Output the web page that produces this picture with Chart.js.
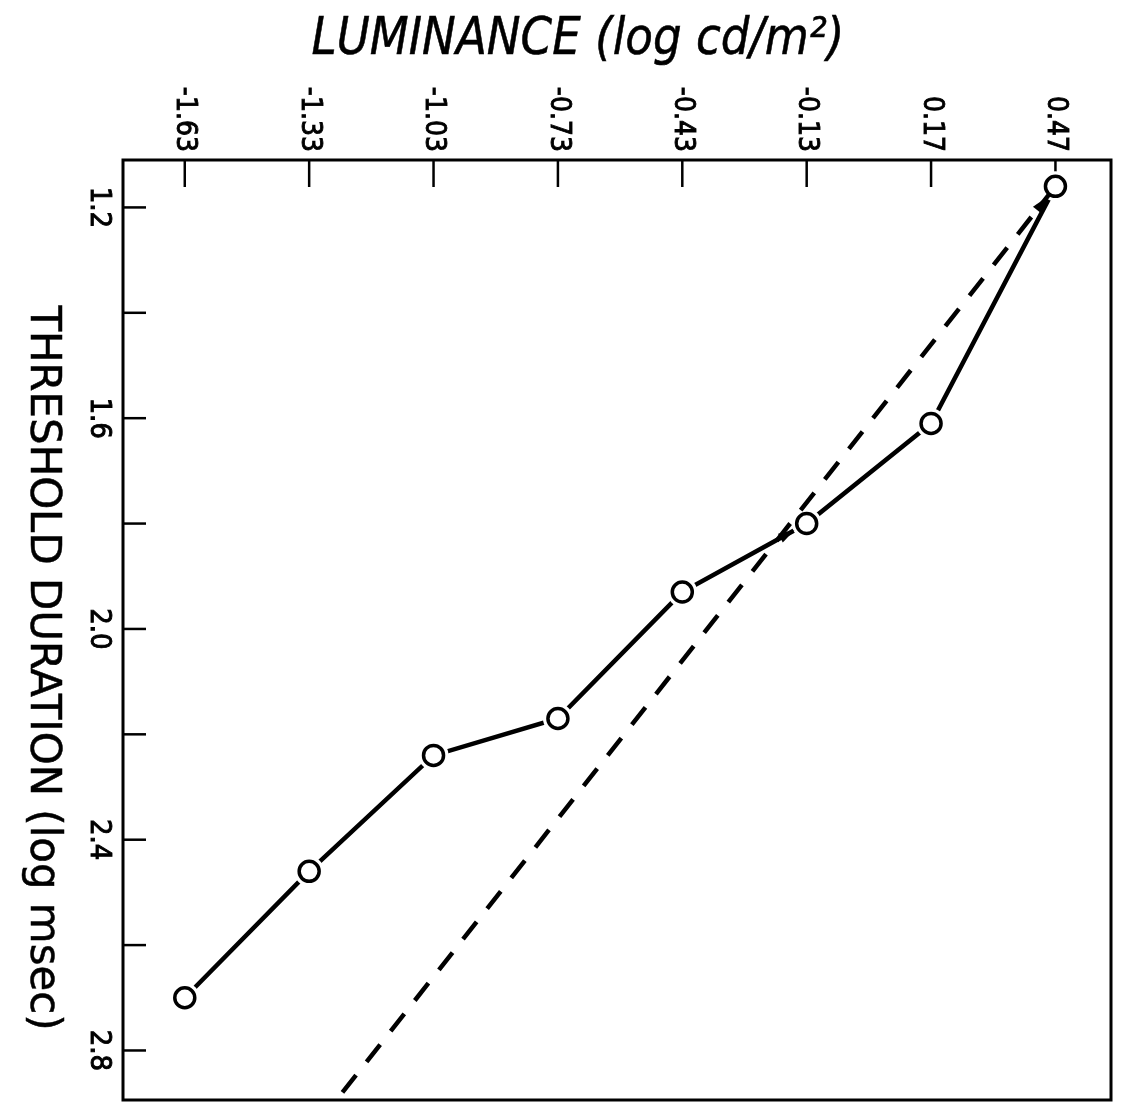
<!DOCTYPE html>
<html><head><meta charset="utf-8">
<script src="https://cdn.jsdelivr.net/npm/chart.js@4.4.1/dist/chart.umd.min.js"></script>
<style>html,body{margin:0;padding:0;background:#fff;}#wrap{width:1126px;height:1115px;}</style>
</head><body><div id="wrap"><canvas id="c" width="1126" height="1115"></canvas></div>
<script>
// ---- data ----
const luminance = [-1.63, -1.33, -1.03, -0.73, -0.43, -0.13, 0.17, 0.47];
const luminanceLabels = ['-1.63', '-1.33', '-1.03', '-0.73', '-0.43', '-0.13', '0.17', '0.47'];
const thresholdDuration = [2.70, 2.46, 2.24, 2.17, 1.93, 1.80, 1.61, 1.16];
const blochLuminance = [0.47, -1.27];
const blochDuration = [1.16, 2.90];
const durationMajorTicks = [1.2, 1.6, 2.0, 2.4, 2.8];
const durationMajorLabels = ['1.2', '1.6', '2.0', '2.4', '2.8'];
const durationMinorTicks = [1.4, 1.8, 2.2, 2.6];
const xTitle = 'LUMINANCE (log cd/m²)';
const yTitle = 'THRESHOLD DURATION (log msec)';

const HALO = 15;

function arrowHead(ctx, tipX, tipY, fromX, fromY, len, half) {
  const dx = tipX - fromX, dy = tipY - fromY, d = Math.hypot(dx, dy);
  const ux = dx / d, uy = dy / d;
  const bx = tipX - ux * len, by = tipY - uy * len;
  ctx.beginPath();
  ctx.moveTo(tipX, tipY);
  ctx.lineTo(bx - uy * half, by + ux * half);
  ctx.lineTo(bx + uy * half, by - ux * half);
  ctx.closePath();
  ctx.fill();
}

const decor = {
  id: 'decor',
  beforeDatasetsDraw(chart) {
    const { ctx, chartArea: a, scales: { x, y } } = chart;
    ctx.save();
    ctx.strokeStyle = '#000';
    ctx.lineWidth = 3;
    ctx.strokeRect(a.left, a.top, a.right - a.left, a.bottom - a.top);
    ctx.lineWidth = 2.5;
    luminance.forEach(v => {
      const px = x.getPixelForValue(v);
      ctx.beginPath(); ctx.moveTo(px, a.top); ctx.lineTo(px, a.top + 27); ctx.stroke();
    });
    durationMajorTicks.concat(durationMinorTicks).forEach(v => {
      const py = y.getPixelForValue(v);
      ctx.beginPath(); ctx.moveTo(a.left, py); ctx.lineTo(a.left + 23, py); ctx.stroke();
    });
    ctx.restore();
  },
  afterDatasetsDraw(chart) {
    const { ctx, scales: { x, y } } = chart;
    ctx.save();
    ctx.fillStyle = '#000';
    // arrowhead on solid segment arriving at the -0.13 point
    const i = 5;
    const cx = x.getPixelForValue(luminance[i]), cy = y.getPixelForValue(thresholdDuration[i]);
    const fx = x.getPixelForValue(luminance[i - 1]), fy = y.getPixelForValue(thresholdDuration[i - 1]);
    let d = Math.hypot(cx - fx, cy - fy);
    arrowHead(ctx, cx - (cx - fx) / d * (HALO - 1), cy - (cy - fy) / d * (HALO - 1), fx, fy, 16, 5);
    // arrowhead on dashed line arriving at the 0.47 point
    const tx = x.getPixelForValue(blochLuminance[0]), ty = y.getPixelForValue(blochDuration[0]);
    const sx = x.getPixelForValue(blochLuminance[1]), sy = y.getPixelForValue(blochDuration[1]);
    d = Math.hypot(tx - sx, ty - sy);
    arrowHead(ctx, tx - (tx - sx) / d * (HALO - 1), ty - (ty - sy) / d * (HALO - 1), sx, sy, 16, 5);
    ctx.restore();
  },
  afterDraw(chart) {
    const { ctx, chartArea: a, scales: { x, y } } = chart;
    ctx.save();
    ctx.fillStyle = '#000';
    ctx.strokeStyle = '#000';
    ctx.lineWidth = 0.9;
    // top tick labels (rotated clockwise)
    ctx.font = '28px "DejaVu Sans Condensed"';
    luminance.forEach((v, i) => {
      const px = x.getPixelForValue(v);
      ctx.save();
      ctx.translate(px, a.top - 8);
      ctx.rotate(Math.PI / 2);
      ctx.textAlign = 'right';
      ctx.textBaseline = 'middle';
      ctx.fillText(luminanceLabels[i], 0, 0);
      ctx.strokeText(luminanceLabels[i], 0, 0);
      ctx.restore();
    });
    // left tick labels
    ctx.font = '29px "DejaVu Sans Condensed"';
    durationMajorTicks.forEach((v, i) => {
      const py = y.getPixelForValue(v);
      ctx.save();
      ctx.translate(a.left - 24, py);
      ctx.rotate(Math.PI / 2);
      ctx.textAlign = 'center';
      ctx.textBaseline = 'middle';
      ctx.fillText(durationMajorLabels[i], 0, 0);
      ctx.strokeText(durationMajorLabels[i], 0, 0);
      ctx.restore();
    });
    // x title
    ctx.lineWidth = 0.5;
    ctx.font = 'italic 41px "DejaVu Sans"';
    let w = ctx.measureText(xTitle).width;
    let fs = 41 * 533 / w;
    ctx.font = 'italic ' + fs.toFixed(1) + 'px "DejaVu Sans"';
    ctx.save();
    ctx.translate(578, 54);
    ctx.scale(1, 1.15);
    ctx.textAlign = 'center';
    ctx.textBaseline = 'alphabetic';
    ctx.fillText(xTitle, 0, 0);
    ctx.strokeText(xTitle, 0, 0);
    ctx.restore();
    // y title
    ctx.font = '41px "DejaVu Sans"';
    w = ctx.measureText(yTitle).width;
    fs = 41 * 725 / w;
    ctx.font = fs.toFixed(1) + 'px "DejaVu Sans"';
    ctx.save();
    ctx.translate(42, 668);
    ctx.rotate(Math.PI / 2);
    ctx.textAlign = 'center';
    ctx.textBaseline = 'middle';
    ctx.fillText(yTitle, 0, 0);
    ctx.strokeText(yTitle, 0, 0);
    ctx.restore();
    ctx.restore();
  }
};

const measured = luminance.map((v, i) => ({ x: v, y: thresholdDuration[i] }));

new Chart(document.getElementById('c'), {
  type: 'line',
  data: {
    datasets: [
      { // open circles
        data: measured, showLine: false,
        pointRadius: 10, pointBorderWidth: 3.5,
        pointBackgroundColor: '#fff', pointBorderColor: '#000', order: 0
      },
      { // dashed reference line
        data: blochLuminance.map((v, i) => ({ x: v, y: blochDuration[i] })),
        borderColor: '#000', borderWidth: 4.5, borderDash: [22, 17], tension: 0,
        pointRadius: 0, order: 1
      },
      { // white gap around circles
        data: measured, showLine: false,
        pointRadius: HALO, pointBorderWidth: 0,
        pointBackgroundColor: '#fff', pointBorderColor: '#fff', order: 2
      },
      { // connecting line
        data: measured, borderColor: '#000', borderWidth: 4.5, tension: 0,
        pointRadius: 0, order: 3
      }
    ]
  },
  options: {
    responsive: false,
    animation: false,
    events: [],
    layout: { padding: { left: 0, top: 0, right: 10, bottom: 5 } },
    plugins: { legend: { display: false }, tooltip: { enabled: false } },
    scales: {
      x: {
        type: 'linear', position: 'top', min: -1.779, max: 0.604,
        ticks: { display: false }, grid: { display: false }, border: { display: false },
        afterFit: s => { s.height = 160; }
      },
      y: {
        type: 'linear', reverse: true, min: 1.110, max: 2.894,
        ticks: { display: false }, grid: { display: false }, border: { display: false },
        afterFit: s => { s.width = 123; }
      }
    }
  },
  plugins: [decor]
});
</script></body></html>
